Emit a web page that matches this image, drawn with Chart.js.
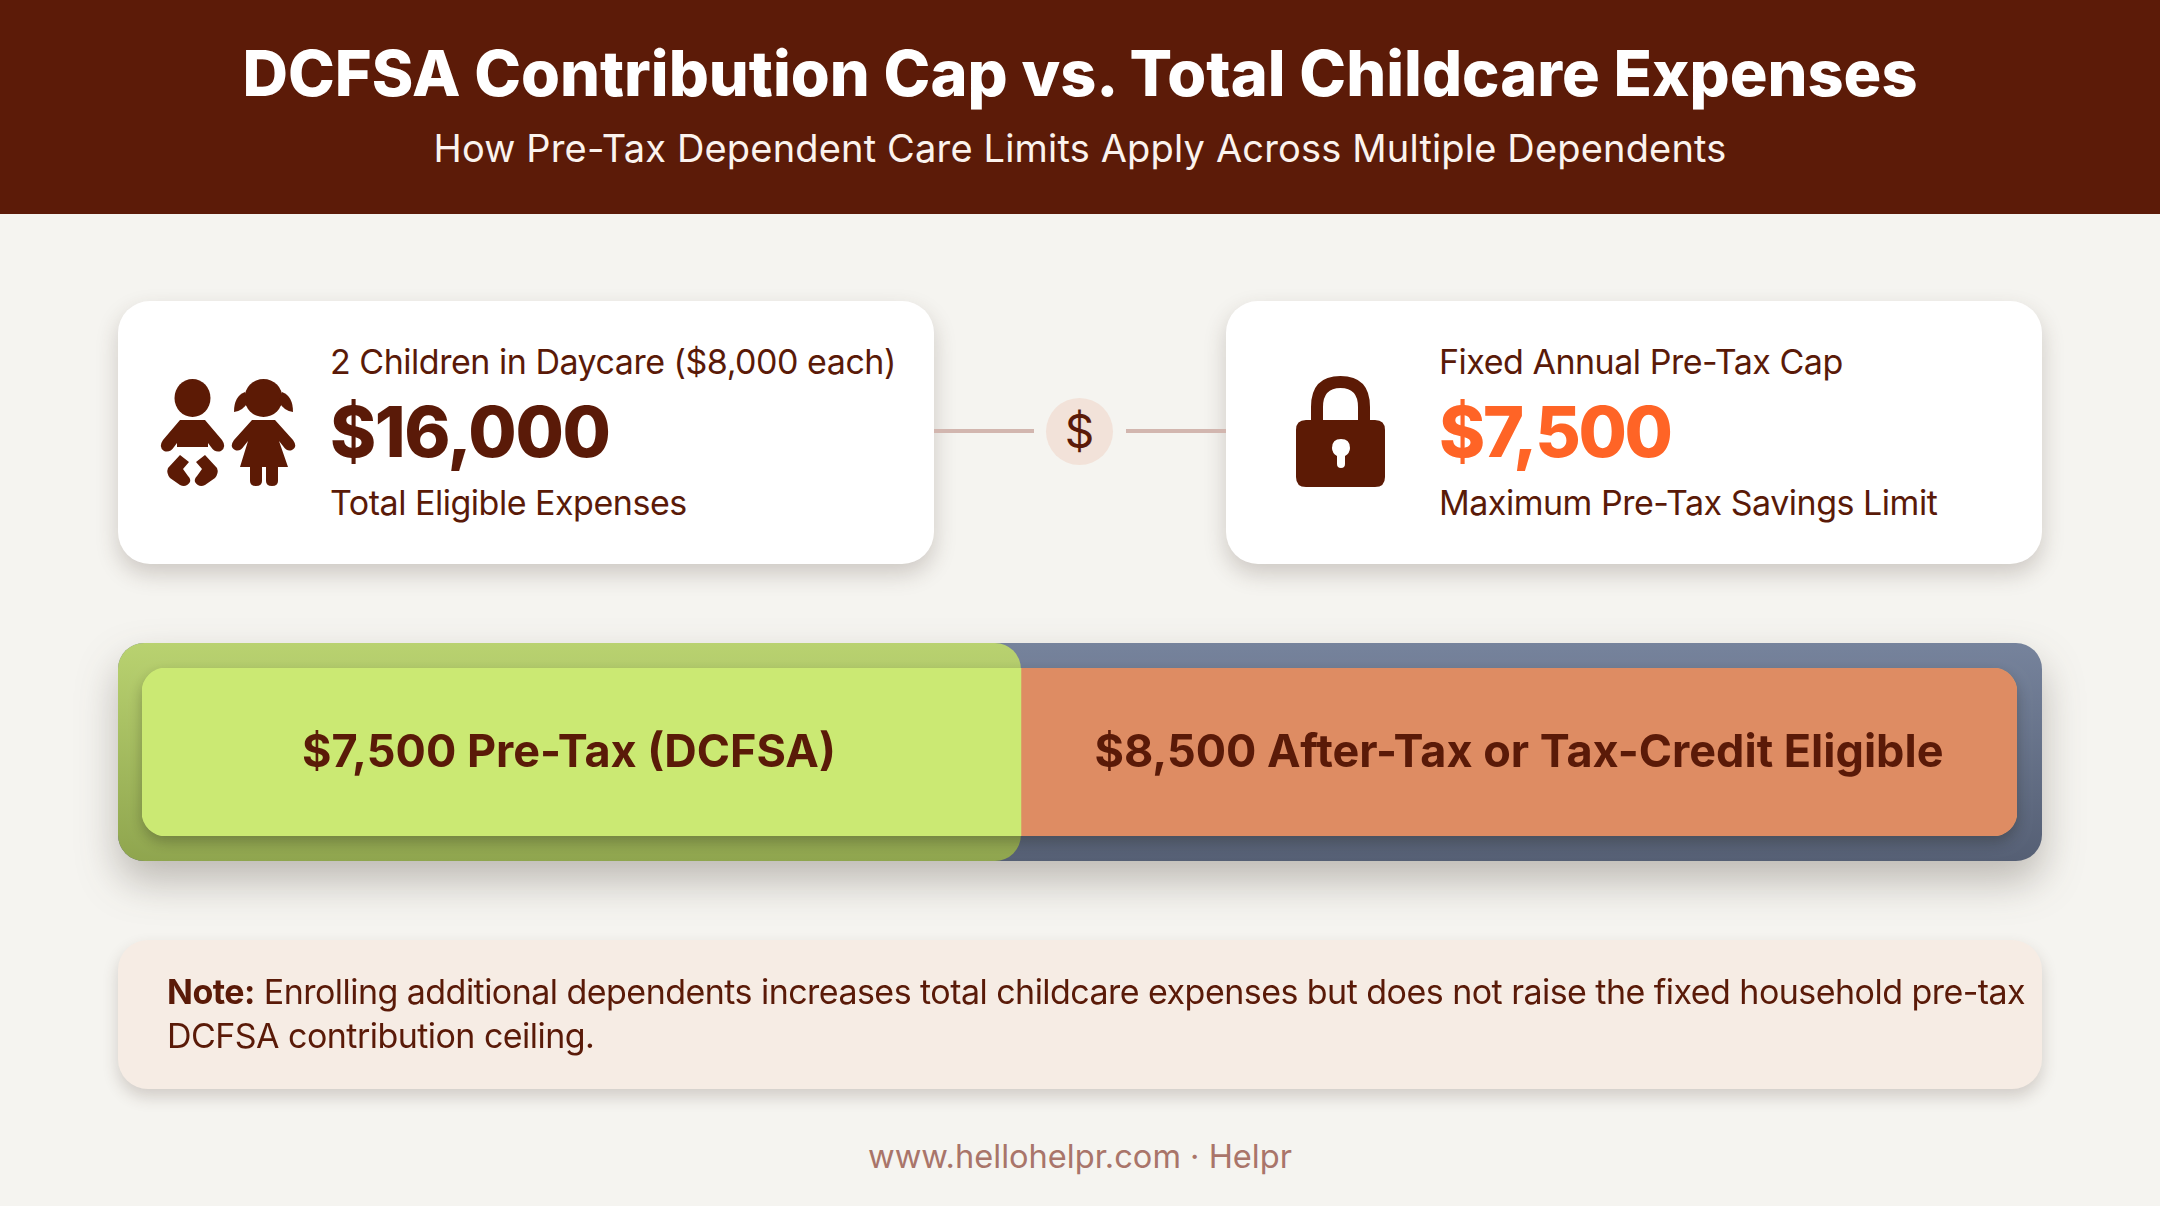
<!DOCTYPE html>
<html>
<head>
<meta charset="utf-8">
<title>DCFSA Contribution Cap vs. Total Childcare Expenses</title>
<script src="https://cdn.jsdelivr.net/npm/chart.js@4"></script>
<style>
  html, body { margin: 0; padding: 0; }
  body { width: 2160px; height: 1206px; background: #f5f4f0; overflow: hidden; position: relative; font-family: Inter, sans-serif; color: #5a1a08; }
  .abs { position: absolute; white-space: nowrap; line-height: 1; }
  #header { position: absolute; left: 0; top: 0; width: 2160px; height: 214px; background: #5c1b08; }
  #title { left: 0; width: 2160px; top: 42px; text-align: center; color: #fff; font-size: 63px; font-weight: 800; }
  #subtitle { left: 0; width: 2160px; top: 129px; text-align: center; color: #fbf3ee; font-size: 38px; font-weight: 400; letter-spacing: 0.17px; }
  .card { position: absolute; top: 301px; width: 816px; height: 263px; background: #fff; border-radius: 32px; box-shadow: 0 10px 22px rgba(70, 50, 40, 0.22); }
  .small { font-size: 34px; letter-spacing: -0.48px; }
  .big { font-size: 70px; font-weight: 800; letter-spacing: -1.4px; }
  .connector { position: absolute; top: 429px; height: 4px; background: #d2b6af; }
  #dollar { position: absolute; left: 1046px; top: 398px; width: 67px; height: 67px; border-radius: 50%; background: #f2e2d9; text-align: center; line-height: 67px; font-size: 46px; }
  #note { position: absolute; left: 118px; top: 940px; width: 1924px; height: 149px; background: #f6ece4; border-radius: 30px; box-shadow: 0 8px 16px rgba(70, 50, 40, 0.2); }
  .noteline { font-size: 34px; left: 167px; letter-spacing: -0.54px; }
  #footer { left: 0; width: 2160px; text-align: center; top: 1140px; font-size: 32.6px; color: #a9756a; }
  #barWrap { position: absolute; left: 60px; top: 610px; width: 2040px; height: 320px; }
  svg { position: absolute; left: 0; top: 0; }
</style>
</head>
<body>
<div id="header"></div>
<div class="abs" id="title">DCFSA Contribution Cap vs. Total Childcare Expenses</div>
<div class="abs" id="subtitle">How Pre-Tax Dependent Care Limits Apply Across Multiple Dependents</div>

<div class="card" style="left:118px"></div>
<div class="card" style="left:1226px"></div>
<div class="connector" style="left:934px;width:100px"></div>
<div class="connector" style="left:1126px;width:100px"></div>
<div id="dollar">$</div>

<svg width="2160" height="1206" viewBox="0 0 2160 1206">
  <g fill="#5c1a05">
    <!-- baby -->
    <ellipse cx="192.5" cy="398" rx="18" ry="19"/>
    <path d="M180 420 H205 L222 440 Q227 447 221 451 Q215 453 211 447 L208 443 V447 H177 V443 L174 447 Q170 453 164 451 Q158 447 163 440 Z"/>
    <path d="M180 455 L168 468 Q166 473 170 478 L180 485 Q186 488 190 482 Q191 479 188 476 L183 469 L189 462 Z"/>
    <path d="M205 455 L217 468 Q219 473 215 478 L205 485 Q199 488 195 482 Q194 479 197 476 L202 469 L196 462 Z"/>
    <!-- girl -->
    <circle cx="263.5" cy="398" r="19"/>
    <path d="M245 392 Q234 396 234 412 Q243 411 248 402 Z"/>
    <path d="M282 392 Q293 396 293 412 Q284 411 279 402 Z"/>
    <path d="M252 420 H275 L293 440 Q298 447 292 450 Q287 452 283 446 L279 441 L288 467 H278 V481 Q278 486 272 486 Q266 486 266 481 V467 H262 V481 Q262 486 256 486 Q250 486 250 481 V467 H240 L248 441 L244 446 Q240 452 235 450 Q229 447 234 440 Z"/>
    <!-- lock -->
    <path d="M1311 425 V407 Q1311 376 1340.5 376 Q1370 376 1370 407 V425 H1358 V407 Q1358 388 1340.5 388 Q1323 388 1323 407 V425 Z"/>
    <path fill-rule="evenodd" d="M1306 420 H1375 Q1385 420 1385 430 V477 Q1385 487 1375 487 H1306 Q1296 487 1296 477 V430 Q1296 420 1306 420 Z M1341 439 Q1332 439 1332 448 Q1332 453 1337 456 L1337 464 Q1337 468 1341 468 Q1345 468 1345 464 L1345 456 Q1350 453 1350 448 Q1350 439 1341 439 Z"/>
  </g>
</svg>

<div class="abs small" style="left:330px;top:345px">2 Children in Daycare ($8,000 each)</div>
<div class="abs big" id="totalText" style="left:330px;top:397px"></div>
<div class="abs small" style="left:330px;top:486px">Total Eligible Expenses</div>
<div class="abs small" style="left:1439px;top:345px">Fixed Annual Pre-Tax Cap</div>
<div class="abs big" id="capText" style="left:1439px;top:397px;color:#ff6426;letter-spacing:-2.3px"></div>
<div class="abs small" style="left:1439px;top:486px">Maximum Pre-Tax Savings Limit</div>

<div id="barWrap"><canvas id="bar" width="2040" height="320"></canvas></div>

<div id="note"></div>
<div class="abs noteline" style="top:975px"><b>Note:</b> Enrolling additional dependents increases total childcare expenses but does not raise the fixed household pre-tax</div>
<div class="abs noteline" style="top:1019px">DCFSA contribution ceiling.</div>
<div class="abs" id="footer">www.hellohelpr.com · Helpr</div>

<script>
const categories = ['Childcare expenses'];
const preTaxValues = [7500];
const afterTaxValues = [8500];
const totalExpenses = 16000;
const preTaxLabel = 'Pre-Tax (DCFSA)';
const afterTaxLabel = 'After-Tax or Tax-Credit Eligible';

const money = (v) => '$' + v.toLocaleString('en-US');
document.getElementById('totalText').textContent = money(totalExpenses);
document.getElementById('capText').textContent = money(preTaxValues[0]);

// the darker tray behind the bar, split at the same value as the bar itself
const trayPlugin = {
  id: 'tray',
  beforeDatasetsDraw(chart) {
    const { ctx, scales, chartArea } = chart;
    const pad = 25;
    const x0 = scales.x.getPixelForValue(0);
    const x1 = scales.x.getPixelForValue(totalExpenses);
    const left = x0 - pad + 1;
    const right = x1 + pad;
    const split = scales.x.getPixelForValue(preTaxValues[0]);
    const top = chartArea.top - pad;
    const h = chartArea.bottom - chartArea.top + pad * 2;

    const blue = ctx.createLinearGradient(0, top, 0, top + h);
    blue.addColorStop(0, '#76839c');
    blue.addColorStop(1, '#555f74');
    const green = ctx.createLinearGradient(0, top, 0, top + h);
    green.addColorStop(0, '#b9d270');
    green.addColorStop(1, '#8fa54e');

    ctx.save();
    ctx.shadowColor = 'rgba(60, 50, 40, 0.30)';
    ctx.shadowBlur = 40;
    ctx.shadowOffsetY = 20;
    ctx.fillStyle = blue;
    ctx.beginPath();
    ctx.roundRect(left, top, right - left, h, 26);
    ctx.fill();
    ctx.shadowColor = 'transparent';
    ctx.fillStyle = green;
    ctx.beginPath();
    ctx.roundRect(left, top, split - left, h, 26);
    ctx.fill();
    // soft shadow of the inner bar on the tray
    ctx.shadowColor = 'rgba(30, 30, 20, 0.30)';
    ctx.shadowBlur = 14;
    ctx.shadowOffsetY = 6;
    ctx.fillStyle = '#cbe973';
    ctx.beginPath();
    ctx.roundRect(x0, chartArea.top, x1 - x0, chartArea.bottom - chartArea.top, 24);
    ctx.fill();
    ctx.restore();
  }
};

const labelPlugin = {
  id: 'barLabels',
  afterDatasetsDraw(chart) {
    const { ctx, scales, chartArea } = chart;
    const y = (chartArea.top + chartArea.bottom) / 2 + 1;
    const x0 = scales.x.getPixelForValue(0) - 25;
    const split = scales.x.getPixelForValue(preTaxValues[0]);
    const x1 = scales.x.getPixelForValue(totalExpenses);
    ctx.save();
    ctx.font = '700 45px Inter';
    ctx.fillStyle = '#5a1a08';
    ctx.textAlign = 'center';
    ctx.textBaseline = 'middle';
    ctx.fillText(money(preTaxValues[0]) + ' ' + preTaxLabel, (x0 + split) / 2, y);
    ctx.fillText(money(afterTaxValues[0]) + ' ' + afterTaxLabel, (split + x1) / 2, y);
    ctx.restore();
  }
};

new Chart(document.getElementById('bar'), {
  type: 'bar',
  data: {
    labels: categories,
    datasets: [
      {
        label: preTaxLabel,
        data: preTaxValues,
        backgroundColor: '#cbe973',
        borderSkipped: false,
        borderRadius: { topLeft: 24, bottomLeft: 24, topRight: 0, bottomRight: 0 }
      },
      {
        label: afterTaxLabel,
        data: afterTaxValues,
        backgroundColor: '#de8c63',
        borderSkipped: false,
        borderRadius: { topLeft: 0, bottomLeft: 0, topRight: 24, bottomRight: 24 }
      }
    ]
  },
  options: {
    indexAxis: 'y',
    responsive: false,
    animation: false,
    devicePixelRatio: 1,
    barPercentage: 1,
    categoryPercentage: 1,
    layout: { padding: { left: 82, right: 83, top: 58, bottom: 94 } },
    plugins: { legend: { display: false }, tooltip: { enabled: false } },
    scales: {
      x: { stacked: true, min: 0, max: totalExpenses, display: false },
      y: { stacked: true, display: false }
    }
  },
  plugins: [trayPlugin, labelPlugin]
});
</script>
</body>
</html>
